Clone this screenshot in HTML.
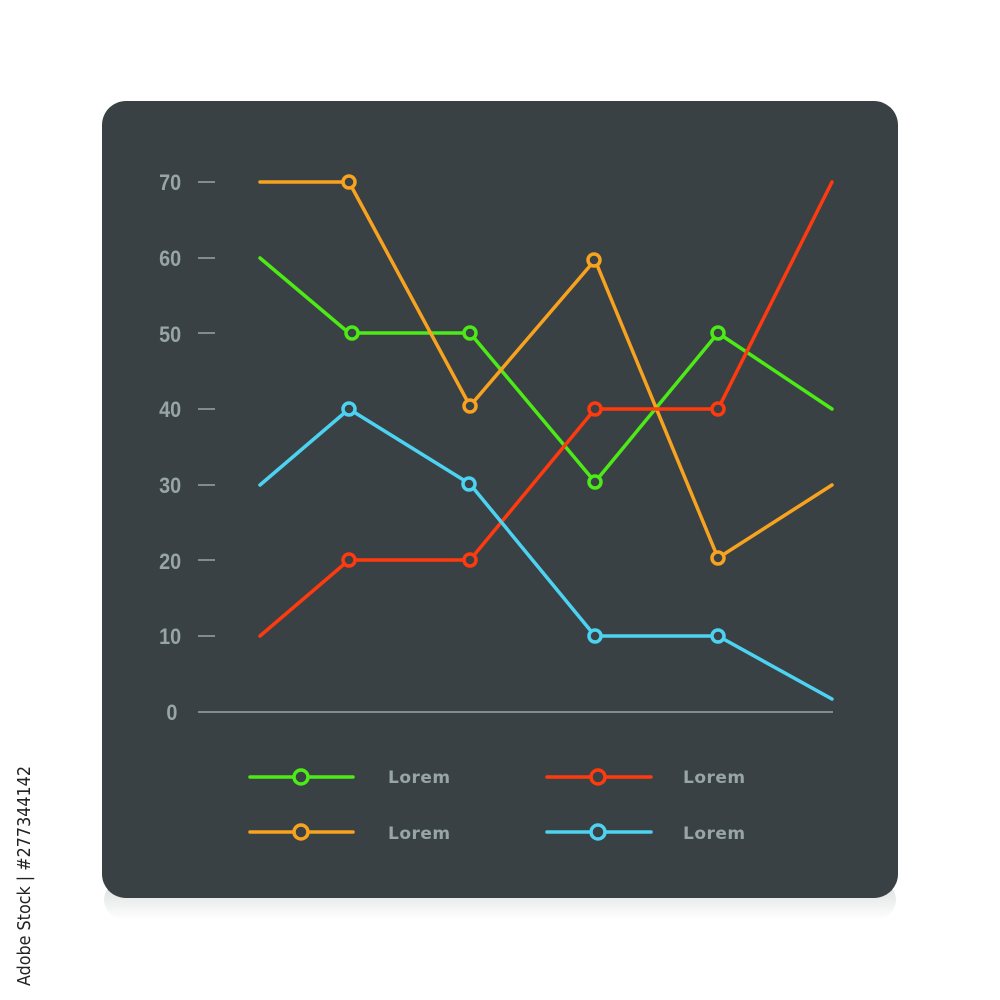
<!DOCTYPE html>
<html><head><style>
html,body{margin:0;padding:0;background:#fff;width:1000px;height:1000px;overflow:hidden}
</style></head><body>
<svg width="1000" height="1000" viewBox="0 0 1000 1000" xmlns="http://www.w3.org/2000/svg">
<defs>
<linearGradient id="sh" x1="0" y1="0" x2="0" y2="1">
<stop offset="0" stop-color="#d8dcdc"/><stop offset="1" stop-color="#ffffff"/>
</linearGradient>
</defs>
<rect width="1000" height="1000" fill="#fff"/>
<rect x="104" y="880" width="792" height="40" rx="22" fill="url(#sh)"/>
<rect x="102" y="101" width="796" height="797" rx="24" fill="#3a4144"/>
<g font-family="'Liberation Sans',sans-serif" font-weight="bold" font-size="22" fill="#97a5a5" text-anchor="middle" transform="scale(0.9,1)">
<text x="189" y="190">70</text><text x="189" y="266">60</text><text x="189" y="342">50</text>
<text x="189" y="417">40</text><text x="189" y="493">30</text><text x="189" y="569">20</text>
<text x="189" y="644">10</text><text x="191" y="720">0</text>
</g>
<g stroke="#97a5a5" stroke-width="1.5">
<line x1="198" y1="182" x2="215" y2="182"/><line x1="198" y1="258" x2="215" y2="258"/>
<line x1="198" y1="333" x2="215" y2="333"/><line x1="198" y1="409" x2="215" y2="409"/>
<line x1="198" y1="485" x2="215" y2="485"/><line x1="198" y1="560" x2="215" y2="560"/>
<line x1="198" y1="636" x2="215" y2="636"/><line x1="198" y1="712" x2="833" y2="712"/>
</g>
<g fill="none" stroke-width="3.5" stroke-linecap="round" stroke-linejoin="round">
<polyline stroke="#4cea16" points="260,258 349,333 470,333 595,482 718,333 832,409"/>
<polyline stroke="#f8a31f" points="260,182 349,182 470,406 595,260 718,558 832,485"/>
<polyline stroke="#ff3a0e" points="260,636 349,560 470,560 595,409 718,409 832,182"/>
<polyline stroke="#4dd3f2" points="260,485 349,409 470,484 595,636 718,636 832,699"/>
</g>
<g fill="#3a4144" stroke-width="3.5">
<g stroke="#4cea16"><circle cx="352" cy="333" r="6"/><circle cx="470" cy="333" r="6"/><circle cx="595" cy="482" r="6"/><circle cx="718" cy="333" r="6"/></g>
<g stroke="#f8a31f"><circle cx="349" cy="182" r="6"/><circle cx="470" cy="406" r="6"/><circle cx="594" cy="260" r="6"/><circle cx="718" cy="558" r="6"/></g>
<g stroke="#ff3a0e"><circle cx="349" cy="560" r="6"/><circle cx="470" cy="560" r="6"/><circle cx="595" cy="409" r="6"/><circle cx="718" cy="409" r="6"/></g>
<g stroke="#4dd3f2"><circle cx="349" cy="409" r="6"/><circle cx="469" cy="484" r="6"/><circle cx="595" cy="636" r="6"/><circle cx="718" cy="636" r="6"/></g>
</g>
<g stroke-width="3.5" stroke-linecap="round">
<line x1="250" y1="777" x2="353" y2="777" stroke="#4cea16"/>
<line x1="250" y1="832" x2="353" y2="832" stroke="#f8a31f"/>
<line x1="547" y1="777" x2="651" y2="777" stroke="#ff3a0e"/>
<line x1="547" y1="832" x2="651" y2="832" stroke="#4dd3f2"/>
</g>
<g fill="#3a4144" stroke-width="3.5">
<circle cx="301" cy="777" r="7" stroke="#4cea16"/>
<circle cx="301" cy="832" r="7" stroke="#f8a31f"/>
<circle cx="598" cy="777" r="7" stroke="#ff3a0e"/>
<circle cx="598" cy="832" r="7" stroke="#4dd3f2"/>
</g>
<g font-family="'DejaVu Sans','Liberation Sans',sans-serif" font-weight="bold" font-size="17" fill="#97a5a5" letter-spacing="0.5">
<text x="388" y="783">Lorem</text><text x="388" y="839">Lorem</text>
<text x="683" y="783">Lorem</text><text x="683" y="839">Lorem</text>
</g>
<text transform="translate(30,986) rotate(-90)" font-family="'DejaVu Sans','Liberation Sans',sans-serif" font-size="17.5" fill="#222" textLength="220" lengthAdjust="spacingAndGlyphs">Adobe Stock | #277344142</text>
</svg>
</body></html>
